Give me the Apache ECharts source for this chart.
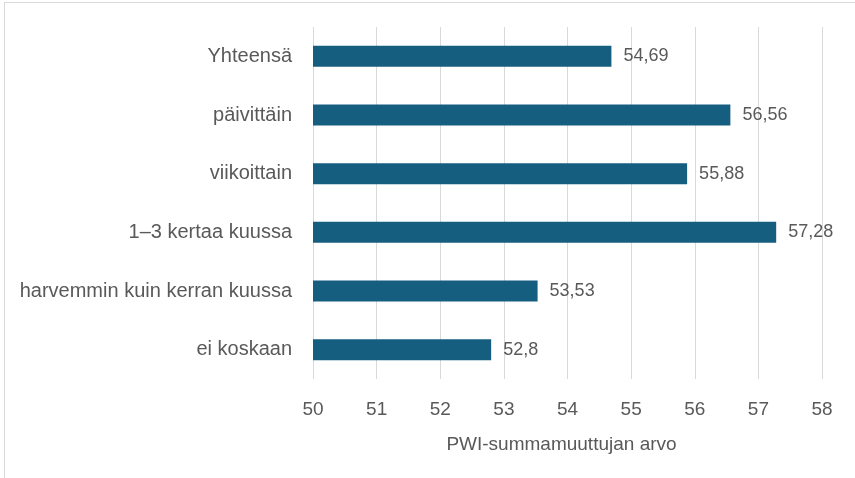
<!DOCTYPE html>
<html>
<head>
<meta charset="utf-8">
<script src="https://cdn.jsdelivr.net/npm/echarts@6/dist/echarts.min.js"></script>
<style>
  html, body { margin: 0; padding: 0; background: #fff; overflow: hidden; }
  #frame { position: absolute; left: 4px; top: 2px; width: 900px; height: 520px; border: 1px solid #d9d9d9; box-sizing: border-box; }
  #chart { position: absolute; left: 0; top: 0; width: 855px; height: 478px; }
</style>
</head>
<body>
<div id="frame"></div>
<div id="chart"></div>
<script>
const categories = ['Yhteensä', 'päivittäin', 'viikoittain', '1–3 kertaa kuussa', 'harvemmin kuin kerran kuussa', 'ei koskaan'];
const values = [54.69, 56.56, 55.88, 57.28, 53.53, 52.8];
const axisTitle = 'PWI-summamuuttujan arvo';

const chart = echarts.init(document.getElementById('chart'), null, { renderer: 'canvas' });
chart.setOption({
  animation: false,
  grid: { left: 313, right: 33, top: 27, bottom: 99, containLabel: false },
  xAxis: {
    type: 'value',
    min: 50,
    max: 58,
    interval: 1,
    name: axisTitle,
    nameLocation: 'middle',
    nameGap: 56,
    nameTextStyle: { color: '#595959', fontSize: 19, fontFamily: 'Liberation Sans', padding: [0, 12, 0, 0] },
    axisLine: { show: false },
    axisTick: { show: false },
    axisLabel: { color: '#595959', fontSize: 19, margin: 21, fontFamily: 'Liberation Sans' },
    splitLine: { show: true, lineStyle: { color: '#d9d9d9', width: 1 } }
  },
  yAxis: {
    type: 'category',
    data: categories,
    inverse: true,
    axisLine: { show: false },
    axisTick: { show: false },
    axisLabel: { color: '#595959', fontSize: 20, margin: 21, fontFamily: 'Liberation Sans' }
  },
  series: [{
    type: 'bar',
    data: values,
    barWidth: 21,
    itemStyle: { color: '#165e80' },
    label: {
      show: true,
      position: 'right',
      distance: 12,
      color: '#595959',
      fontSize: 18,
      fontFamily: 'Liberation Sans',
      formatter: p => String(p.value).replace('.', ',')
    }
  }]
});
</script>
</body>
</html>
